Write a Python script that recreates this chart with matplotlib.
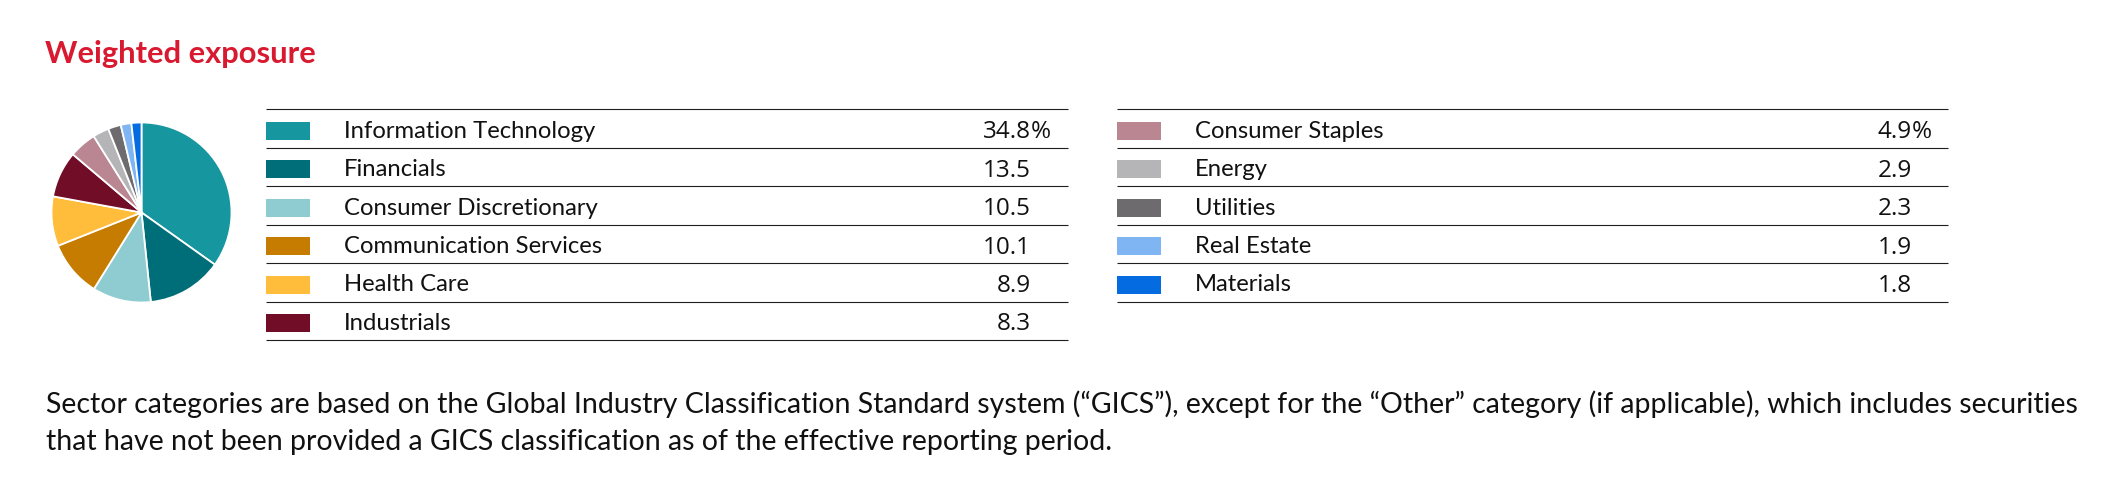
import matplotlib
matplotlib.use('Agg')
import matplotlib.pyplot as plt

plt.rcParams['font.family'] = ['Lato', 'DejaVu Sans']

W, H = 2120, 486

# -------------------------------------------------------------------------
# data
# -------------------------------------------------------------------------
sectors = ['Information Technology', 'Financials', 'Consumer Discretionary',
           'Communication Services', 'Health Care', 'Industrials',
           'Consumer Staples', 'Energy', 'Utilities', 'Real Estate', 'Materials']
weights = [34.8, 13.5, 10.5, 10.1, 8.9, 8.3, 4.9, 2.9, 2.3, 1.9, 1.8]
colors = ['#16969E', '#006E78', '#8ECCD1', '#C67C00', '#FFBD3B', '#720D28',
          '#BA8691', '#B5B4B6', '#6D6B6E', '#80B5F4', '#056BE1']
ROWS_LEFT = 6

TITLE = 'Weighted exposure'
FOOTNOTE = [
    'Sector categories are based on the Global Industry Classification Standard system (\u201cGICS\u201d), '
    'except for the \u201cOther\u201d category (if applicable), which includes securities',
    'that have not been provided a GICS classification as of the effective reporting period.',
]

TITLE_RED = '#D8192F'
LINE_COLOR = '#1e1e1e'

# -------------------------------------------------------------------------
# figure + pixel-space background axes
# -------------------------------------------------------------------------
fig = plt.figure(figsize=(W / 100, H / 100), dpi=100)
bg = fig.add_axes([0, 0, 1, 1])
bg.set_xlim(0, W)
bg.set_ylim(H, 0)
bg.axis('off')

bg.text(45, 62.5, TITLE, color=TITLE_RED, fontsize=22.2, fontweight='bold',
        va='baseline', ha='left')

# pie
cx, cy, r = 141.5, 212.5, 90
pad = 3
pie_ax = fig.add_axes([(cx - r - pad) / W, (H - cy - r - pad) / H,
                       2 * (r + pad) / W, 2 * (r + pad) / H])
pie_ax.pie(weights, colors=colors, startangle=90, counterclock=False,
           wedgeprops=dict(edgecolor='white', linewidth=1.3))
lim = (r + pad) / r
pie_ax.set_xlim(-lim, lim)
pie_ax.set_ylim(-lim, lim)
pie_ax.axis('off')

# table rows
ROW_TOP = 109.5
ROW_H = 38.4
columns = [
    # x0, x1, label x, value right x
    (266, 1068, 344, 1031),
    (1117, 1948, 1195, 1912),
]

for col, (x0, x1, lx, vx) in enumerate(columns):
    idx = range(0, ROWS_LEFT) if col == 0 else range(ROWS_LEFT, len(sectors))
    for row, i in enumerate(idx):
        y = ROW_TOP + row * ROW_H
        bg.hlines(y, x0, x1, color=LINE_COLOR, lw=0.8)
        bg.add_patch(plt.Rectangle((x0, y + 12.5), 44, 18, color=colors[i], lw=0))
        bg.text(lx, y + 28.3, sectors[i], fontsize=17.2, va='baseline', ha='left',
                color='#111111')
        bg.text(vx, y + 28.8, f'{weights[i]:.1f}', fontsize=17.5, va='baseline',
                ha='right', color='#111111', family=['Open Sans', 'DejaVu Sans'])
        if row == 0:
            bg.text(vx, y + 28.8, '%', fontsize=17.5, va='baseline', ha='left',
                    color='#111111', family=['Open Sans', 'DejaVu Sans'])
    bg.hlines(ROW_TOP + len(idx) * ROW_H, x0, x1, color=LINE_COLOR, lw=0.8)

# footnote
for k, line in enumerate(FOOTNOTE):
    bg.text(46, 412.8 + k * 36.9, line, fontsize=20.5, va='baseline', ha='left',
            color='#111111')

plt.savefig('out.png', dpi=100)
plt.close()
